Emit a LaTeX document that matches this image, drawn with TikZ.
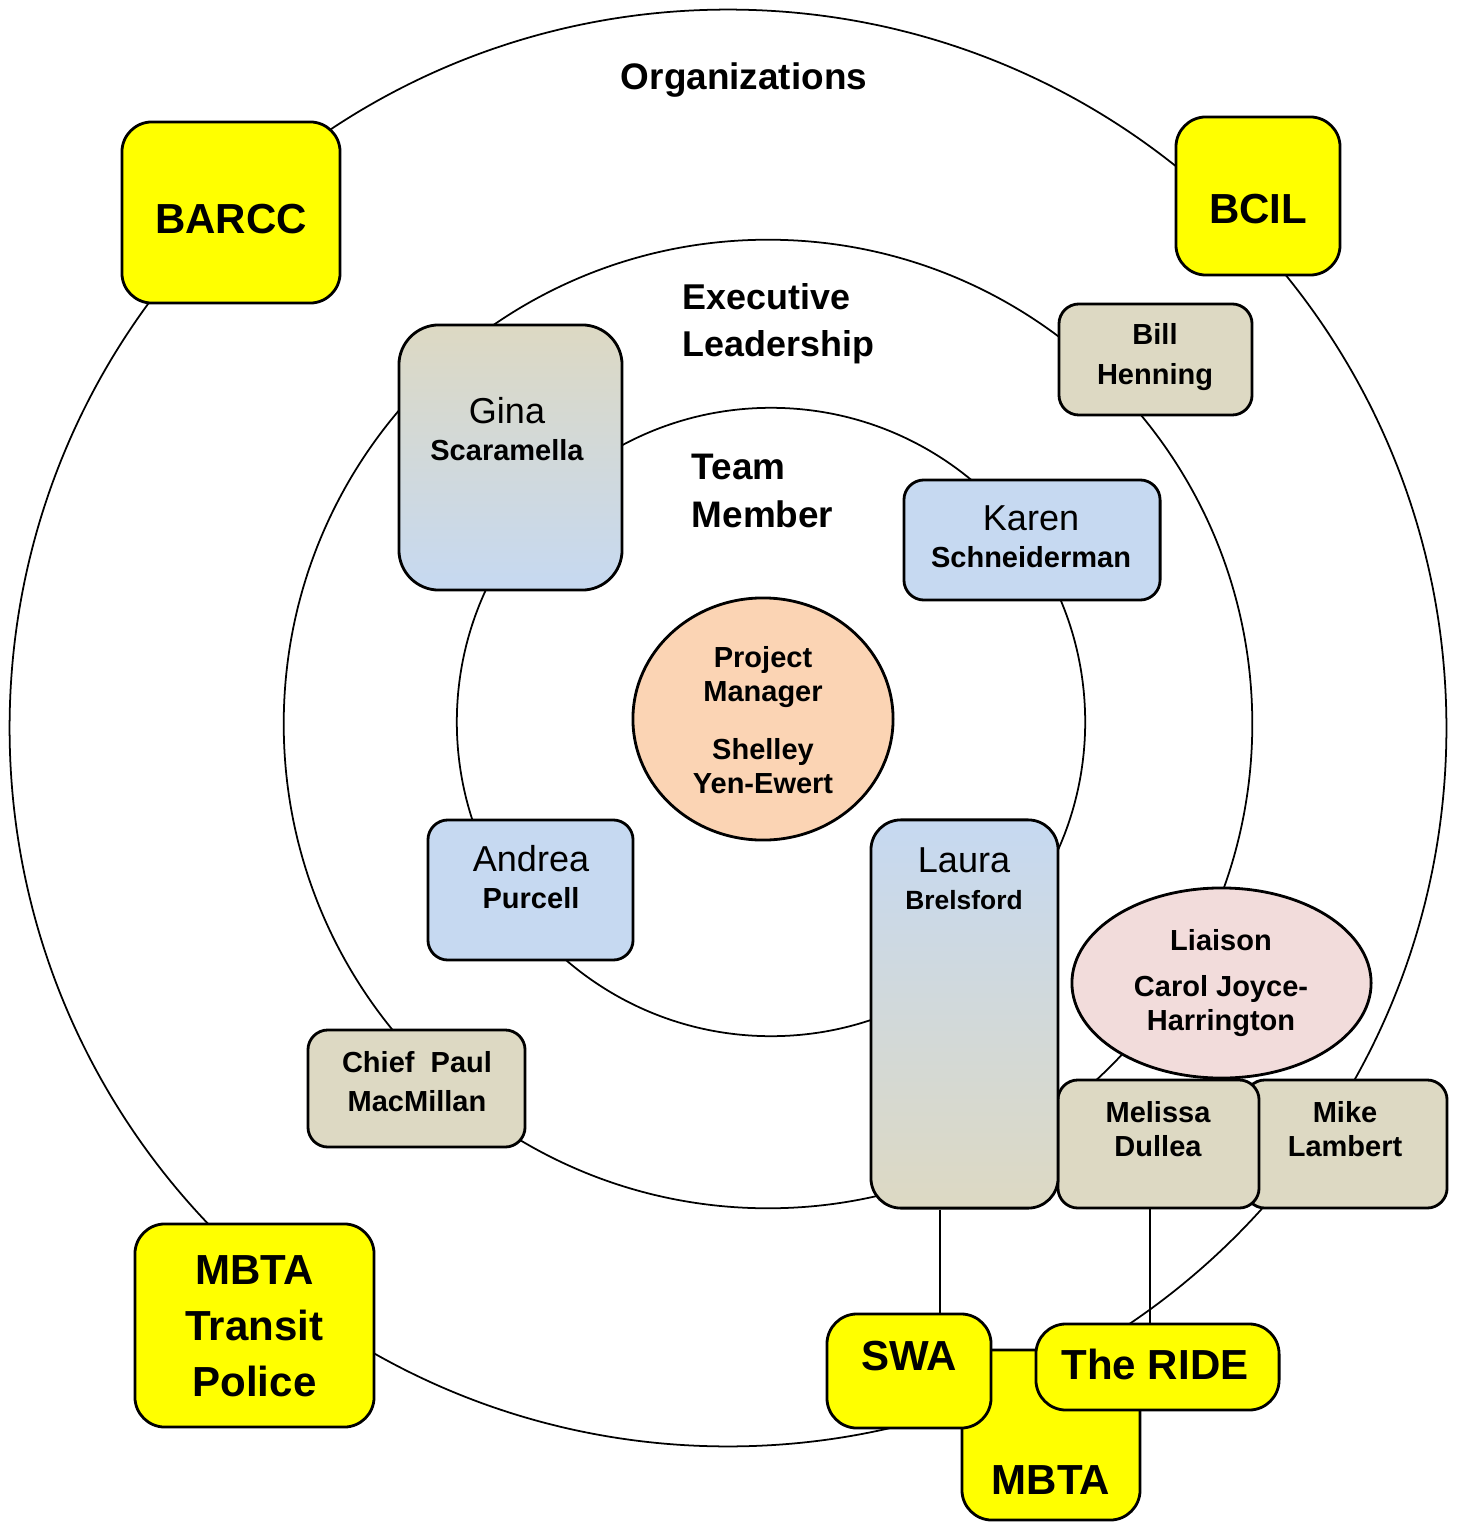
\documentclass[tikz,border=0pt]{standalone}
\usepackage{fontspec}
\setmainfont{Liberation Sans}
\usetikzlibrary{shapes.geometric}
\definecolor{orgyellow}{HTML}{FFFF00}
\definecolor{leadtan}{HTML}{DDD9C3}
\definecolor{teamblue}{HTML}{C6D9F1}
\definecolor{pmpeach}{HTML}{FBD4B4}
\definecolor{liaisonpink}{HTML}{F2DCDB}
\newcommand{\orgfont}{\fontsize{11.95}{15.9}\selectfont\bfseries}
\newcommand{\ringfont}{\fontsize{10.5}{13.7}\selectfont\bfseries}
\newcommand{\givenfont}{\fontsize{10.25}{10.4}\selectfont}
\newcommand{\surnamefont}{\fontsize{8.25}{10.4}\selectfont\bfseries}
\newcommand{\rolefont}{\fontsize{8.25}{9.7}\selectfont\bfseries}
\tikzstyle{ring} = [draw=black, line width=0.5pt]
\tikzstyle{link} = [draw=black, line width=0.6pt]
\tikzstyle{orgbox} = [rectangle, 
rounded corners=0.3cm, 
draw=black, 
line width=0.8pt, 
fill=orgyellow]
\tikzstyle{leadbox} = [rectangle, 
rounded corners=0.2cm, 
draw=black, 
line width=0.8pt, 
fill=leadtan]
\tikzstyle{teambox} = [rectangle, 
rounded corners=0.2cm, 
draw=black, 
line width=0.8pt, 
fill=teamblue]
\tikzstyle{oval} = [ellipse, 
draw=black, 
line width=0.8pt]
\tikzstyle{txt} = [inner sep=0pt, align=center, anchor=north]

\begin{document}
\begin{tikzpicture}[x=0.01cm, y=-0.01cm]
		\useasboundingbox (0,0) rectangle (1459,1522);
		% the three rings
		\draw [ring] (728,728) circle [radius=7.18cm];
		\draw [ring] (768,724) circle [radius=4.84cm];
		\draw [ring] (771,722) circle [radius=3.14cm];
		\node (orgtitle) [txt, font=\ringfont] at (744,62) {Organizations};
		\node (leadtitle) [txt, font=\fontsize{10.2}{13.4}\selectfont\bfseries, anchor=north west, align=left] at (682,283) {Executive\\Leadership};
		\node (teamtitle) [txt, font=\ringfont, anchor=north west, align=left] at (691,453) {Team\\Member};
		
		% organizations
		\node (barcc) [orgbox, minimum width=2.18cm, minimum height=1.81cm] at (231,212.5) {};
		\node (bcil) [orgbox, minimum width=1.64cm, minimum height=1.58cm] at (1258,196) {};
		\node (mbtatp) [orgbox, minimum width=2.39cm, minimum height=2.03cm] at (254.5,1325.5) {};
		\node (mbta) [orgbox, minimum width=1.78cm, minimum height=1.70cm] at (1051,1435) {};
		\node (swa) [orgbox, minimum width=1.64cm, minimum height=1.14cm] at (909,1371) {};
		\node (ride) [orgbox, minimum width=2.43cm, minimum height=0.86cm] at (1157.5,1367) {};
		\node (barcc-t) [txt, font=\orgfont] at (231,203) {BARCC};
		\node (bcil-t) [txt, font=\orgfont] at (1258,193) {BCIL};
		\node (mbtatp-t) [txt, font=\orgfont] at (254.5,1255) {MBTA\\Transit\\Police};
		\node (mbta-t) [txt, font=\orgfont] at (1051,1465) {MBTA};
		\node (swa-t) [txt, font=\orgfont] at (909,1340) {SWA};
		\node (ride-t) [txt, font=\orgfont] at (1155,1348) {The RIDE};
		
		% executive leadership
		\node (bill) [leadbox, minimum width=1.93cm, minimum height=1.11cm] at (1155.5,359.5) {};
		\node (chief) [leadbox, minimum width=2.17cm, minimum height=1.17cm] at (416.5,1088.5) {};
		\node (mike) [leadbox, minimum width=2.02cm, minimum height=1.28cm] at (1346,1144) {};
		\node (melissa) [leadbox, minimum width=2.01cm, minimum height=1.28cm] at (1158.5,1144) {};
		\node (bill-t) [txt, font=\rolefont] at (1155,323) {Bill\\[1.5pt]Henning};
		\node (chief-t) [txt, font=\rolefont] at (417,1051) {Chief~~Paul\\[1.2pt]MacMillan};
		\node (mike-t) [txt, font=\rolefont] at (1345,1101) {Mike\\Lambert};
		\node (melissa-t) [txt, font=\rolefont] at (1158,1101) {Melissa\\Dullea};
		
		% team members
		\node (gina) [rectangle, rounded corners=0.4cm, draw=black, line width=0.8pt, top color=leadtan, bottom color=teamblue, minimum width=2.23cm, minimum height=2.65cm] at (510.5,457.5) {};
		\node (laura) [rectangle, rounded corners=0.3cm, draw=black, line width=0.8pt, top color=teamblue, bottom color=leadtan, minimum width=1.87cm, minimum height=3.88cm] at (964.5,1014) {};
		\node (karen) [teambox, minimum width=2.56cm, minimum height=1.20cm] at (1032,540) {};
		\node (andrea) [teambox, minimum width=2.05cm, minimum height=1.40cm] at (530.5,890) {};
		\node (gina-t) [txt, font=\givenfont] at (507,397) {Gina\\\surnamefont Scaramella};
		\node (laura-t) [txt, font=\givenfont] at (964,847) {Laura\\\fontsize{7.5}{10.2}\selectfont\bfseries Brelsford};
		\node (karen-t) [txt, font=\givenfont] at (1031,505) {Karen\\\surnamefont Schneiderman};
		\node (andrea-t) [txt, font=\givenfont] at (531,845) {Andrea\\\surnamefont Purcell};
		
		% project manager and liaison
		\node (pm) [oval, fill=pmpeach, minimum width=2.60cm, minimum height=2.42cm] at (763,719) {};
		\node (pm-t) [txt, font=\rolefont] at (763,646) {Project\\Manager\\[6.8pt]Shelley\\Yen-Ewert};
		\node (liaison) [oval, fill=liaisonpink, minimum width=2.99cm, minimum height=1.90cm] at (1221.5,983) {};
		\node (liaison-t) [txt, font=\rolefont] at (1221,929) {Liaison\\[3.4pt]Carol Joyce-\\Harrington};
		
		% links down to the organizations
		\coordinate (swalink) at (940,0);
		\coordinate (ridelink) at (1150,0);
		\draw [link] (laura.south -| swalink) -- (swa.north -| swalink);
		\draw [link] (melissa.south -| ridelink) -- (ride.north -| ridelink);
	\end{tikzpicture}
\end{document}
